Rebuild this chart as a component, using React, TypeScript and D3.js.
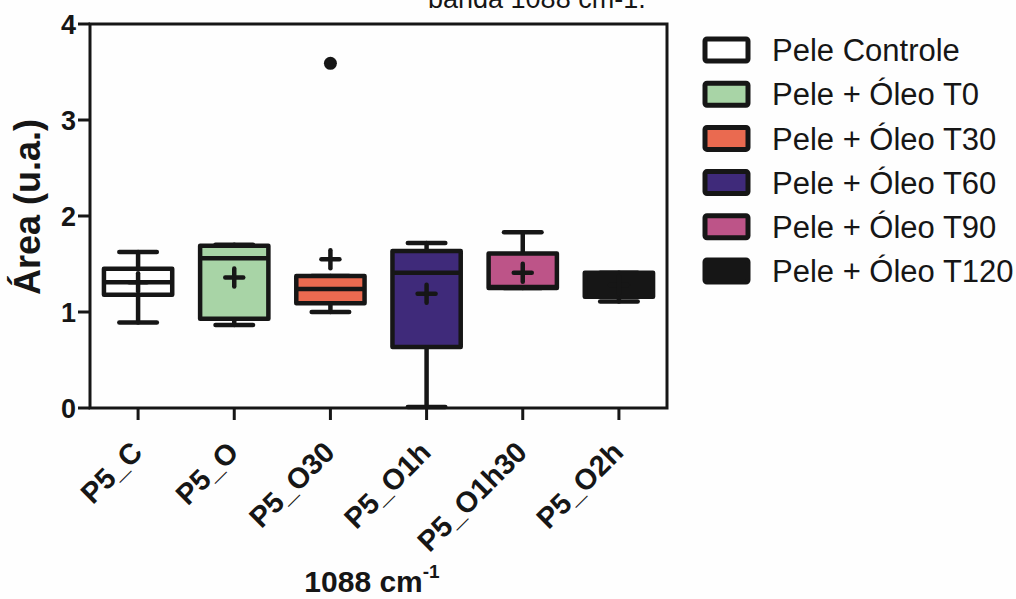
import React from "react";
import * as d3 from "d3";

// Box-plot summary for the 1088 cm-1 band area, one box per sample.
const categories = ["P5_C", "P5_O", "P5_O30", "P5_O1h", "P5_O1h30", "P5_O2h"];
const legendLabels = [
  "Pele Controle",
  "Pele + Óleo T0",
  "Pele + Óleo T30",
  "Pele + Óleo T60",
  "Pele + Óleo T90",
  "Pele + Óleo T120",
];
const fills = ["#ffffff", "#a8d4a6", "#ea6a50", "#3f2a7a", "#bd5488", "#161616"];

const whiskerLow = [0.89, 0.865, 1.0, 0.01, 1.25, 1.11];
const q1 = [1.18, 0.93, 1.09, 0.635, 1.25, 1.16];
const median = [1.31, 1.56, 1.24, 1.41, 1.26, 1.29];
const q3 = [1.45, 1.69, 1.375, 1.635, 1.61, 1.41];
const whiskerHigh = [1.625, 1.7, 1.375, 1.72, 1.83, 1.41];
const means = [1.31, 1.36, 1.55, 1.19, 1.41, 1.28];
const outliers = [{ category: "P5_O30", value: 3.59 }];

const yTicks = [0, 1, 2, 3, 4];

const INK = "#161616";
const FONT = "'Liberation Sans', Arial, Helvetica, sans-serif";

export default function App() {
  const left = 90;
  const right = 667;
  const top = 24;
  const bottom = 408;

  const x = d3.scaleBand<string>().domain(categories).range([left, right]).padding(0);
  const y = d3.scaleLinear().domain([0, 4]).range([bottom, top]);

  const bw = x.bandwidth();
  const boxW = bw * 0.71;
  const capW = bw * 0.39;
  const sw = 4.5;
  const plus = 9;

  return (
    <svg
      width={1016}
      height={599}
      style={{ position: "absolute", left: 0, top: 0, display: "block" }}
    >
      <rect x={0} y={0} width={1016} height={599} fill="#fefefe" />

      {/* caption cut by the top edge */}
      <text x={428} y={8} fontFamily={FONT} fontSize={27} fill={INK}>
        banda 1088 cm-1.
      </text>

      {/* whiskers */}
      {categories.map((c, i) => {
        const cx = (x(c) as number) + bw / 2;
        return (
          <g key={"w" + c} stroke={INK} strokeWidth={sw} strokeLinecap="round" fill="none">
            <line x1={cx} x2={cx} y1={y(whiskerHigh[i])} y2={y(q3[i])} />
            <line x1={cx} x2={cx} y1={y(q1[i])} y2={y(whiskerLow[i])} />
            <line x1={cx - capW / 2} x2={cx + capW / 2} y1={y(whiskerHigh[i])} y2={y(whiskerHigh[i])} />
            <line x1={cx - capW / 2} x2={cx + capW / 2} y1={y(whiskerLow[i])} y2={y(whiskerLow[i])} />
          </g>
        );
      })}

      {/* boxes, medians, means */}
      {categories.map((c, i) => {
        const cx = (x(c) as number) + bw / 2;
        return (
          <g key={"b" + c}>
            <rect
              x={cx - boxW / 2}
              y={y(q3[i])}
              width={boxW}
              height={y(q1[i]) - y(q3[i])}
              fill={fills[i]}
              stroke={INK}
              strokeWidth={sw}
              strokeLinejoin="round"
            />
            <line
              x1={cx - boxW / 2}
              x2={cx + boxW / 2}
              y1={y(median[i])}
              y2={y(median[i])}
              stroke={INK}
              strokeWidth={sw}
            />
            <g stroke={INK} strokeWidth={4.5} strokeLinecap="round">
              <line x1={cx - plus} x2={cx + plus} y1={y(means[i])} y2={y(means[i])} />
              <line x1={cx} x2={cx} y1={y(means[i]) - plus} y2={y(means[i]) + plus} />
            </g>
          </g>
        );
      })}

      {/* outliers */}
      {outliers.map((o) => (
        <circle
          key={o.category}
          cx={(x(o.category) as number) + bw / 2}
          cy={y(o.value)}
          r={6.5}
          fill={INK}
        />
      ))}

      {/* frame */}
      <rect x={left} y={top} width={right - left} height={bottom - top} fill="none" stroke={INK} strokeWidth={3} />

      {/* y axis */}
      {yTicks.map((t) => (
        <g key={"y" + t}>
          <line x1={left - 12} x2={left} y1={y(t)} y2={y(t)} stroke={INK} strokeWidth={3} />
          <text
            x={left - 14}
            y={y(t)}
            dy="0.36em"
            textAnchor="end"
            fontFamily={FONT}
            fontWeight="bold"
            fontSize={27}
            fill={INK}
          >
            {t}
          </text>
        </g>
      ))}
      <text
        transform={`translate(40, 207) rotate(-90)`}
        textAnchor="middle"
        fontFamily={FONT}
        fontWeight="bold"
        fontSize={36}
        fill={INK}
      >
        Área (u.a.)
      </text>

      {/* x axis */}
      {categories.map((c) => {
        const cx = (x(c) as number) + bw / 2;
        return (
          <g key={"x" + c}>
            <line x1={cx} x2={cx} y1={bottom} y2={bottom + 12} stroke={INK} strokeWidth={3} />
            <text
              transform={`translate(${cx + 6}, ${bottom + 46}) rotate(-45)`}
              textAnchor="end"
              fontFamily={FONT}
              fontWeight="bold"
              fontSize={29}
              fill={INK}
            >
              {c}
            </text>
          </g>
        );
      })}
      <text x={372} y={592} textAnchor="middle" fontFamily={FONT} fontWeight="bold" fontSize={30} fill={INK}>
        1088 cm<tspan dy={-14} fontSize={19}>-1</tspan>
      </text>

      {/* legend */}
      {legendLabels.map((l, i) => {
        const cy = 50 + i * 44.2;
        return (
          <g key={l}>
            <rect
              x={705}
              y={cy - 11}
              width={43}
              height={22}
              rx={2}
              fill={fills[i]}
              stroke={INK}
              strokeWidth={5}
            />
            <text x={772} y={cy} dy="0.36em" fontFamily={FONT} fontSize={31} fill={INK}>
              {l}
            </text>
          </g>
        );
      })}
    </svg>
  );
}
